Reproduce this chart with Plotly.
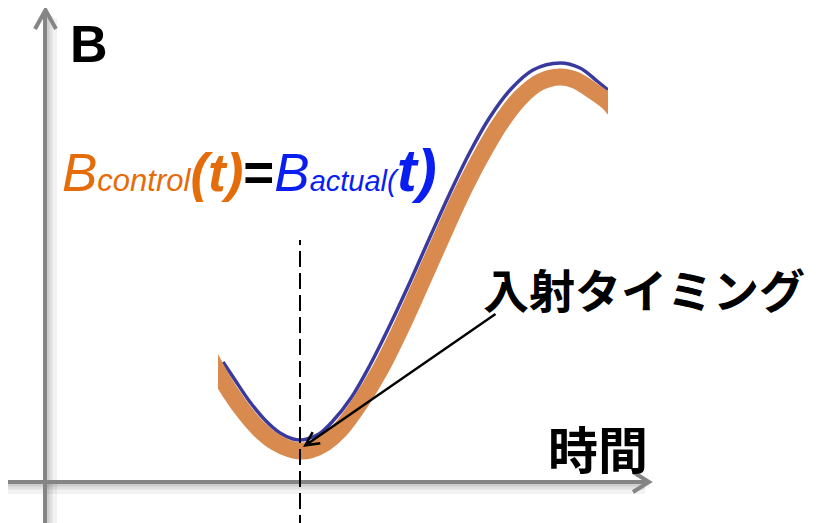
import plotly.graph_objects as go

# ---- data (time, B); origin at the axis crossing ----
time_control = [165, 173, 185, 200, 215, 230, 245, 255, 265, 280, 295, 315, 335, 355,
                375, 395, 415, 435, 455, 475, 495, 515, 530, 545, 563, 570]
B_control = [125, 110, 90, 69, 52, 40, 33, 31, 32, 39, 52, 79, 112, 152,
             196, 241, 285, 324, 358, 384, 400, 405, 402, 393, 380, 372]

time_actual = [178, 190, 205, 220, 235, 248, 255, 262, 274, 287, 306, 325, 345, 365,
               385, 405, 425, 445, 466, 488, 515, 535, 552, 563]
B_actual = [120, 102, 80, 62, 49, 43, 42, 43, 48, 60, 84, 117, 157, 200,
            245, 289, 330, 365, 393, 412, 419, 414, 401, 392]

injection_time = 255
dash_B = [-49, 242]

formula_label = ("<span style='color:#E46C0A'><i>B<span style='font-size:31px'>control</span></i>"
                 "<b><i>(t)</i></b></span><b>=</b>"
                 "<span style='color:#0A1EF0'><i>B<span style='font-size:29px'>actual(</span></i>"
                 "<b><i><span style='font-size:60px'>t)</span></i></b></span>")
y_label = "<b>B</b>"
x_label = "<b>時間</b>"
arrow_label = "<b>入射タイミング</b>"

# axis geometry (data units == pixels; page body has an 8px offset)
x_min, x_max = -37, 779
y_min, y_max = -49, 474

fig = go.Figure()

fig.add_trace(go.Scatter(x=time_actual, y=B_actual, mode="lines", xaxis="x2", yaxis="y",
                         line=dict(color="#3A3A9E", width=3.5, shape="spline"),
                         hoverinfo="skip", showlegend=False))
fig.add_trace(go.Scatter(x=time_control, y=B_control, mode="lines", xaxis="x2", yaxis="y",
                         line=dict(color="#D98A4E", width=17, shape="spline"),
                         hoverinfo="skip", showlegend=False))

shapes = []
axis_col = "#858585"
# shadows
for off, w, op in [(6, 12, 0.05), (4, 7, 0.07), (2.5, 4, 0.08)]:
    shapes.append(dict(type="line", x0=off, x1=off, y0=y_min, y1=470 - off,
                       line=dict(color=f"rgba(0,0,0,{op})", width=w), layer="below"))
    shapes.append(dict(type="line", x0=-37, x1=600, y0=-off, y1=-off,
                       line=dict(color=f"rgba(0,0,0,{op})", width=w), layer="below"))
# y axis with arrow
shapes.append(dict(type="line", x0=0, x1=0, y0=y_min, y1=472,
                   line=dict(color=axis_col, width=4), layer="below"))
shapes.append(dict(type="path", path="M -10,453 L 0.5,472 L 11,453",
                   line=dict(color=axis_col, width=4), layer="below"))
# x axis with arrow
shapes.append(dict(type="line", x0=-37, x1=603, y0=0, y1=0,
                   line=dict(color=axis_col, width=4), layer="below"))
shapes.append(dict(type="path", path="M 588,10 L 604,0 L 588,-10",
                   line=dict(color=axis_col, width=4), layer="below"))
# dashed injection line
shapes.append(dict(type="line", x0=injection_time, x1=injection_time, y0=dash_B[0], y1=dash_B[1],
                   line=dict(color="black", width=2, dash="16px,6px"), layer="above"))

annotations = [
    dict(x=44, y=438, text=y_label, showarrow=False, xanchor="center", yanchor="middle",
         font=dict(family="Liberation Sans", size=52, color="black"), xref="x", yref="y"),
    dict(x=553, y=35, text=x_label, showarrow=False, xanchor="center", yanchor="middle",
         font=dict(family="Noto Sans CJK JP", size=50, color="black"), xref="x", yref="y"),
    dict(x=599, y=194, text=arrow_label, showarrow=False, xanchor="center", yanchor="middle",
         font=dict(family="Noto Sans CJK JP", size=46, color="black"), xref="x", yref="y"),
    dict(x=15, y=312, text=formula_label, showarrow=False, xanchor="left", yanchor="middle",
         font=dict(family="Liberation Sans", size=53, color="black"), xref="x", yref="y"),
    dict(x=258, y=35, ax=452, ay=169, xref="x", yref="y", axref="x", ayref="y",
         text="", showarrow=True, arrowhead=5, arrowsize=1.1, arrowwidth=2.4, arrowcolor="black",
         standoff=0),
]

fig.update_layout(
    width=816, height=523, margin=dict(l=0, r=0, t=0, b=0),
    paper_bgcolor="white", plot_bgcolor="rgba(0,0,0,0)",
    xaxis=dict(range=[x_min, x_max], domain=[0, 1], visible=False, fixedrange=True),
    xaxis2=dict(range=[173, 563], domain=[210 / 816, 600 / 816], anchor="y", visible=False),
    yaxis=dict(range=[y_min, y_max], domain=[0, 1], visible=False),
    shapes=shapes, annotations=annotations, showlegend=False,
)

fig.write_html("out.html")
